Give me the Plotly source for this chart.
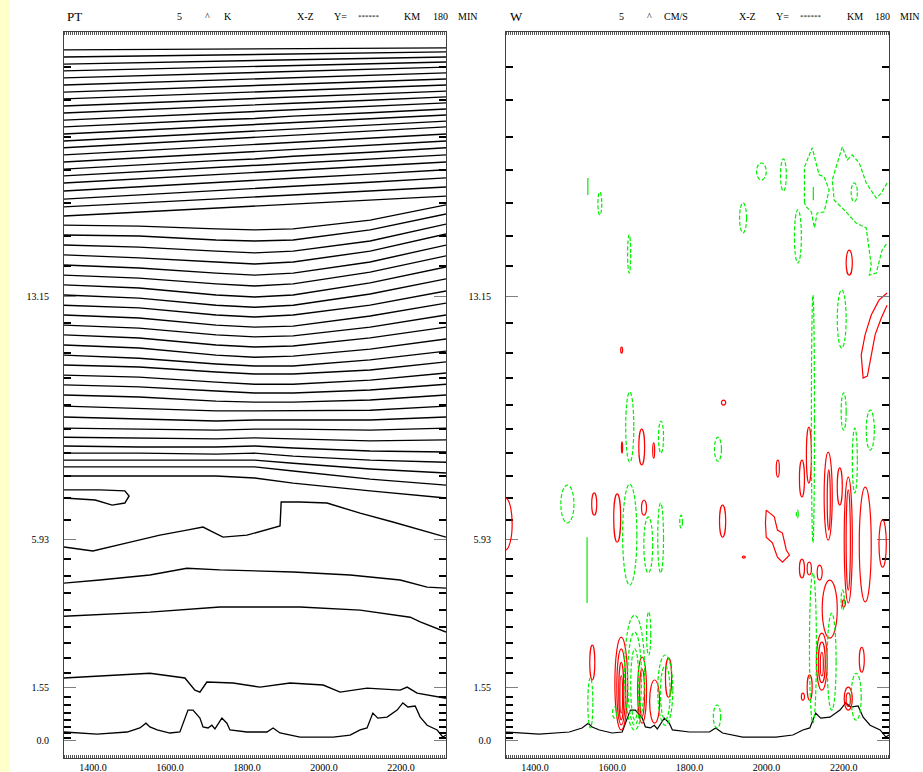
import plotly.graph_objects as go

# ---------------- axes / ticks ----------------
X_RANGE = [1325, 2317]
Z_RANGE = [-0.53, 20.97]
x_tick_vals = [1400, 1600, 1800, 2000, 2200]
x_tick_text = ["1400.0", "1600.0", "1800.0", "2000.0", "2200.0"]
z_tick_vals = [0.0, 1.55, 5.93, 13.15]
z_tick_text = ["0.0", "1.55", "5.93", "13.15"]
model_levels = [0.06, 0.21, 0.39, 0.59, 0.80, 1.04, 1.27, 1.98, 2.43, 2.87, 3.35,
                3.85, 4.35, 4.86, 5.36, 6.52, 7.17, 7.82, 8.50, 9.21, 9.92, 10.72,
                11.46, 12.35, 14.04, 14.93, 15.91, 16.88, 17.86, 18.96, 19.93]

# ---------------- terrain ----------------
terrain_x = [1325, 1411, 1489, 1504, 1522, 1538, 1548, 1567, 1600, 1626,
             1647, 1660, 1678, 1686, 1699, 1709, 1717, 1735, 1748, 1756,
             1800, 1852, 1868, 1886, 1938, 2024, 2068, 2094, 2112, 2127,
             2140, 2164, 2190, 2205, 2218, 2237, 2250, 2268, 2294, 2309, 2317]
terrain_z = [0.24, 0.18, 0.24, 0.30, 0.36, 0.50, 0.39, 0.30, 0.21, 0.24,
             0.89, 0.89, 0.65, 0.39, 0.36, 0.44, 0.33, 0.65, 0.50, 0.30,
             0.24, 0.24, 0.36, 0.21, 0.09, 0.09, 0.15, 0.30, 0.36, 0.80,
             0.65, 0.68, 0.89, 1.10, 0.98, 1.01, 0.68, 0.44, 0.30, 0.09, 0.15]

# ---------------- PT isentropes (heights in km at pt_x) ----------------
pt_x = [1325, 1520, 1720, 1820, 1920, 2120, 2317]
pt_upper = [
    [20.44, 20.45, 20.46, 20.47, 20.48, 20.49, 20.50],
    [20.23, 20.26, 20.29, 20.31, 20.32, 20.35, 20.38],
    [20.02, 20.06, 20.10, 20.13, 20.15, 20.19, 20.23],
    [19.82, 19.87, 19.92, 19.95, 19.98, 20.03, 20.08],
    [19.61, 19.67, 19.74, 19.77, 19.80, 19.87, 19.93],
    [19.40, 19.47, 19.54, 19.58, 19.62, 19.69, 19.76],
    [19.19, 19.27, 19.35, 19.39, 19.42, 19.50, 19.58],
    [18.99, 19.07, 19.15, 19.18, 19.24, 19.32, 19.40],
    [18.78, 18.87, 18.96, 19.00, 19.04, 19.13, 19.22],
    [18.57, 18.67, 18.76, 18.81, 18.86, 18.95, 19.05],
    [18.36, 18.46, 18.56, 18.62, 18.67, 18.77, 18.87],
    [18.16, 18.27, 18.37, 18.41, 18.48, 18.58, 18.69],
    [17.95, 18.06, 18.17, 18.23, 18.29, 18.40, 18.51],
    [17.74, 17.86, 17.98, 18.04, 18.09, 18.21, 18.33],
    [17.54, 17.66, 17.79, 17.85, 17.91, 18.04, 18.16],
    [17.33, 17.45, 17.58, 17.64, 17.70, 17.83, 17.95],
    [17.12, 17.24, 17.37, 17.43, 17.49, 17.62, 17.74],
    [16.91, 17.04, 17.16, 17.21, 17.29, 17.41, 17.54],
    [16.71, 16.83, 16.96, 17.02, 17.08, 17.21, 17.33],
    [16.50, 16.62, 16.75, 16.81, 16.87, 17.00, 17.12],
    [16.26, 16.39, 16.51, 16.58, 16.64, 16.76, 16.89],
    [16.02, 16.15, 16.27, 16.34, 16.40, 16.52, 16.65],
    [15.79, 15.91, 16.03, 16.09, 16.14, 16.26, 16.38],
    [15.52, 15.64, 15.76, 15.82, 15.87, 15.99, 16.11],
]
pt_middle = [
    [15.25, 15.22, 15.14, 15.11, 15.14, 15.40, 15.85],
    [14.96, 14.93, 14.81, 14.78, 14.81, 15.11, 15.58],
    [14.66, 14.60, 14.48, 14.43, 14.48, 14.78, 15.28],
    [14.37, 14.28, 14.16, 14.10, 14.16, 14.48, 14.99],
    [14.07, 13.98, 13.83, 13.77, 13.83, 14.16, 14.66],
    [13.77, 13.68, 13.51, 13.45, 13.51, 13.86, 14.34],
    [13.48, 13.39, 13.18, 13.12, 13.18, 13.54, 14.01],
    [13.18, 13.09, 12.88, 12.82, 12.88, 13.21, 13.66],
    [12.88, 12.80, 12.59, 12.53, 12.59, 12.88, 13.30],
    [12.59, 12.50, 12.29, 12.23, 12.26, 12.56, 12.94],
    [12.29, 12.20, 12.00, 11.94, 11.97, 12.23, 12.59],
    [12.00, 11.91, 11.70, 11.64, 11.67, 11.91, 12.23],
    [11.70, 11.61, 11.40, 11.34, 11.37, 11.58, 11.88],
    [11.40, 11.31, 11.14, 11.08, 11.08, 11.26, 11.52],
]
pt_lower = [
    [11.11, 11.05, 10.90, 10.84, 10.84, 10.96, 11.20],
    [10.81, 10.75, 10.60, 10.54, 10.54, 10.66, 10.87],
    [10.52, 10.46, 10.34, 10.28, 10.28, 10.37, 10.54],
    [10.22, 10.16, 10.04, 10.01, 10.01, 10.07, 10.22],
    [9.89, 9.83, 9.75, 9.75, 9.75, 9.77, 9.89],
    [9.57, 9.51, 9.45, 9.48, 9.48, 9.48, 9.57],
    [9.24, 9.21, 9.18, 9.21, 9.21, 9.18, 9.24],
    [8.97, 8.95, 8.92, 8.95, 8.92, 8.86, 8.89],
    [8.71, 8.68, 8.68, 8.71, 8.65, 8.56, 8.53],
    [8.50, 8.50, 8.47, 8.50, 8.41, 8.29, 8.23],
    [8.29, 8.29, 8.29, 8.29, 8.20, 8.03, 7.91],
    [8.09, 8.09, 8.09, 8.09, 7.97, 7.73, 7.55],
    [7.82, 7.82, 7.82, 7.76, 7.61, 7.38, 7.17],
]
pt_bump_x = [1325, 1418, 1483, 1494, 1483, 1450, 1406, 1325]
pt_bump_z = [7.41, 7.41, 7.38, 7.23, 7.02, 6.96, 7.11, 7.17]
pt_step_x = [1325, 1400, 1489, 1574, 1644, 1686, 1712, 1738, 1800, 1868, 1886,
             1889, 1938, 2008, 2094, 2179, 2317]
pt_step_z = [5.72, 5.60, 5.84, 6.07, 6.22, 6.31, 6.16, 6.01, 6.07, 6.28, 6.34,
             7.05, 7.05, 7.02, 6.72, 6.46, 6.01]
pt_mid_x = [1325, 1418, 1548, 1644, 1730, 1920, 2068, 2198, 2268, 2317]
pt_mid_z = [4.65, 4.74, 4.89, 5.09, 5.04, 4.98, 4.89, 4.74, 4.53, 4.50]
pt_low_x = [1325, 1548, 1730, 1938, 2094, 2224, 2250, 2317]
pt_low_z = [3.67, 3.79, 3.94, 3.94, 3.85, 3.64, 3.50, 3.20]
pt_pbl_x = [1325, 1418, 1548, 1639, 1665, 1678, 1696, 1764, 1834, 1912, 1998,
            2042, 2112, 2198, 2216, 2242, 2317]
pt_pbl_z = [1.84, 1.90, 1.98, 1.84, 1.48, 1.42, 1.72, 1.69, 1.57, 1.69, 1.63,
            1.42, 1.54, 1.48, 1.57, 1.39, 1.24]

# ---------------- W contours: (x0, x1, z0, z1) boxes of closed contours ----------------
w_up_cells = [
    (1622, 1627, 11.46, 11.64), (1883, 1894, 9.92, 10.07), (1669, 1684, 8.15, 9.21),
    (1624, 1627, 8.50, 8.83), (1705, 1710, 8.35, 8.80), (1305, 1341, 5.63, 7.17),
    (1547, 1560, 6.66, 7.32), (1604, 1622, 5.86, 7.29), (1676, 1689, 6.66, 7.11),
    (1878, 1894, 6.01, 6.96), (1937, 1945, 5.39, 5.45), (2025, 2033, 7.79, 8.29),
    (2085, 2098, 7.20, 8.29), (2103, 2116, 7.61, 9.27), (2085, 2098, 4.80, 5.36),
    (2105, 2116, 4.89, 5.27), (2131, 2144, 4.74, 5.18), (2149, 2170, 5.92, 8.53),
    (2157, 2165, 6.22, 8.00), (2183, 2196, 6.96, 8.06), (2201, 2222, 4.06, 7.79),
    (2206, 2217, 4.44, 7.41), (2240, 2271, 4.09, 7.49), (2291, 2310, 5.12, 6.52),
    (2144, 2183, 3.02, 4.74), (2206, 2222, 13.77, 14.51), (1542, 1555, 1.78, 2.81),
    (1607, 1640, 0.30, 3.05), (1612, 1635, 0.45, 2.70), (1617, 1630, 0.60, 2.30),
    (1620, 1627, 0.80, 1.90), (1666, 1689, 0.50, 2.46), (1671, 1684, 0.70, 2.10),
    (1697, 1723, 0.50, 1.78), (1738, 1754, 1.27, 2.43), (2129, 2157, 1.48, 3.17),
    (2134, 2152, 1.70, 2.90), (2139, 2147, 1.90, 2.60), (2090, 2098, 1.18, 1.39),
    (2105, 2118, 1.18, 1.93), (2196, 2204, 3.94, 4.15), (2240, 2253, 2.01, 2.75),
    (2201, 2222, 0.89, 1.57), (2206, 2217, 1.00, 1.40),
]
w_down_cells = [
    (1563, 1573, 15.55, 16.23), (1640, 1648, 13.83, 14.96), (1974, 1999, 16.59, 17.09),
    (2036, 2051, 16.26, 17.21), (1930, 1948, 15.02, 15.91), (2072, 2090, 14.13, 15.70),
    (2219, 2235, 15.94, 16.50), (2183, 2206, 11.61, 13.33), (2116, 2124, 5.84, 13.18),
    (2111, 2129, 0.50, 4.95), (1635, 1656, 8.23, 10.31), (1720, 1733, 8.50, 9.45),
    (1865, 1883, 8.26, 8.97), (1467, 1501, 6.43, 7.55), (1627, 1664, 4.59, 7.58),
    (1682, 1705, 4.95, 6.61), (1718, 1733, 4.95, 7.02), (1775, 1782, 6.28, 6.66),
    (2077, 2082, 6.58, 6.81), (2193, 2206, 9.18, 10.28), (2222, 2235, 7.32, 9.24),
    (2258, 2279, 8.59, 9.77), (2193, 2201, 3.85, 4.44), (1537, 1550, 0.36, 1.84),
    (1632, 1684, 0.30, 3.70), (1640, 1676, 0.45, 3.20), (1648, 1669, 0.60, 2.70),
    (1689, 1700, 2.52, 3.79), (1718, 1757, 0.44, 2.52), (1725, 1750, 0.60, 2.20),
    (1601, 1612, 0.65, 0.98), (1862, 1881, 0.36, 1.04), (2157, 2180, 0.89, 3.76),
    (2219, 2245, 0.59, 1.98),
]
w_zero_x = [1537, 2121, 1535]
w_zero_z0 = [16.14, 15.99, 4.06]
w_zero_z1 = [16.65, 16.38, 6.01]
w_up_loop_a_x = [1999, 2020, 2028, 2041, 2051, 2059, 2041, 2028, 2015, 1999, 1997, 1999]
w_up_loop_a_z = [6.81, 6.61, 6.22, 6.13, 5.63, 5.48, 5.27, 5.42, 5.84, 6.01, 6.43, 6.81]
w_up_loop_b_x = [2312, 2291, 2271, 2255, 2245, 2250, 2261, 2271, 2281, 2297, 2312]
w_up_loop_b_z = [13.24, 13.03, 12.59, 12.00, 11.40, 10.72, 10.78, 11.40, 12.00, 12.50, 12.88]
w_down_loop_a_x = [2098, 2098, 2118, 2126, 2136, 2149, 2162, 2157, 2149, 2131, 2124, 2116, 2103, 2098]
w_down_loop_a_z = [15.91, 16.97, 17.54, 17.18, 16.74, 16.68, 16.29, 16.05, 15.64, 15.61, 15.17, 15.64, 15.79, 15.91]
w_down_loop_b_x = [2312, 2297, 2284, 2258, 2240, 2222, 2209, 2196, 2170, 2175, 2206,
                   2232, 2258, 2266, 2271, 2266, 2284, 2299, 2312]
w_down_loop_b_z = [16.50, 16.20, 16.05, 16.50, 17.09, 17.33, 17.18, 17.57, 16.59, 15.99,
                   15.64, 15.31, 15.17, 14.51, 14.07, 13.77, 13.83, 14.51, 14.72]

RED = "#FF0000"
GREEN = "#00EE00"
DASH = "4px,2px"
FONT = "Liberation Serif, Times New Roman, serif"

fig = go.Figure()


def line(x, z, xa, ya, color, width=1.3, dash="solid"):
    fig.add_trace(go.Scatter(
        x=x, y=z, mode="lines", xaxis=xa, yaxis=ya,
        line=dict(color=color, width=width, dash=dash),
        hoverinfo="skip", showlegend=False))


# left panel: potential temperature
for group in (pt_upper, pt_middle, pt_lower):
    for zs in group:
        line(pt_x, zs, "x", "y", "black", 1.4)
line(pt_bump_x, pt_bump_z, "x", "y", "black", 1.4)
line(pt_step_x, pt_step_z, "x", "y", "black", 1.4)
line(pt_mid_x, pt_mid_z, "x", "y", "black", 1.4)
line(pt_low_x, pt_low_z, "x", "y", "black", 1.4)
line(pt_pbl_x, pt_pbl_z, "x", "y", "black", 1.4)
line(terrain_x, terrain_z, "x", "y", "black", 1.3)

# right panel: vertical velocity
shapes = []
for (x0, x1, z0, z1) in w_up_cells:
    shapes.append(dict(type="circle", xref="x2", yref="y2", x0=x0, x1=x1, y0=z0, y1=z1,
                       line=dict(color=RED, width=1.2)))
for (x0, x1, z0, z1) in w_down_cells:
    shapes.append(dict(type="circle", xref="x2", yref="y2", x0=x0, x1=x1, y0=z0, y1=z1,
                       line=dict(color=GREEN, width=1.2, dash=DASH)))
for xv, a, b in zip(w_zero_x, w_zero_z0, w_zero_z1):
    line([xv, xv], [a, b], "x2", "y2", GREEN, 1.2)
line(w_up_loop_a_x, w_up_loop_a_z, "x2", "y2", RED, 1.2)
line(w_up_loop_b_x, w_up_loop_b_z, "x2", "y2", RED, 1.2)
line(w_down_loop_a_x, w_down_loop_a_z, "x2", "y2", GREEN, 1.2, DASH)
line(w_down_loop_b_x, w_down_loop_b_z, "x2", "y2", GREEN, 1.2, DASH)
line(terrain_x, terrain_z, "x2", "y2", "black", 1.2)

W, H = 923, 772
ydom = [1 - 758 / H, 1 - 32 / H]

# page strip
shapes.append(dict(type="rect", xref="paper", yref="paper", x0=0, x1=10 / W, y0=0, y1=1,
                   fillcolor="#FFFFCC", line=dict(width=0), layer="below"))
# grid-point tick bands along the top and bottom frames (dotted look)
for xd in ("x domain", "x2 domain"):
    for yy in (1 - 33.5 / H, 1 - 756.5 / H):
        shapes.append(dict(type="line", xref=xd, yref="paper", x0=0, x1=1, y0=yy, y1=yy,
                           line=dict(color="#555555", width=3, dash="1px,1px")))


def xaxis(domain, anchor):
    return dict(domain=domain, anchor=anchor, range=X_RANGE, tickmode="array",
                tickvals=x_tick_vals, ticktext=x_tick_text, ticks="",
                showline=True, linecolor="#404040", linewidth=1,
                mirror=True, showgrid=False, zeroline=False, automargin=False,
                tickfont=dict(family=FONT, size=10, color="black"), ticklabelstandoff=0)


def yaxis(anchor):
    return dict(domain=ydom, anchor=anchor, range=Z_RANGE, tickmode="array",
                tickvals=z_tick_vals, ticktext=z_tick_text, ticks="inside", ticklen=12,
                tickcolor="#808080", tickwidth=1, showline=True, linecolor="#404040",
                linewidth=1, mirror="allticks", showgrid=False, zeroline=False,
                automargin=False, ticklabelstandoff=12,
                tickfont=dict(family=FONT, size=10, color="black"),
                minor=dict(tickmode="array", tickvals=model_levels, ticks="inside",
                           ticklen=7, tickcolor="black", tickwidth=2, showgrid=False))


# header texts (x pixel position, text, size)
header_left = [(65, "PT", 13), (175, "5", 10), (203, "^", 10), (222, "K", 10),
               (295, "X-Z", 10), (332, "Y=", 10), (356, "******", 7), (402, "KM", 10),
               (431, "180", 10), (456, "MIN", 10)]
header_right = [(508, "W", 13), (617, "5", 10), (645, "^", 10), (662, "CM/S", 10),
                (737, "X-Z", 10), (774, "Y=", 10), (798, "******", 7), (845, "KM", 10),
                (873, "180", 10), (898, "MIN", 10)]
annotations = []
for px, txt, sz in header_left + header_right:
    annotations.append(dict(x=px / W, y=1 - 17 / H, xref="paper", yref="paper",
                            xanchor="left", yanchor="middle", text=txt, showarrow=False,
                            font=dict(family=FONT, size=sz, color="black")))

fig.update_layout(
    width=W, height=H, template="none",
    paper_bgcolor="white", plot_bgcolor="white",
    margin=dict(l=0, r=0, t=0, b=0, pad=0, autoexpand=False),
    showlegend=False,
    xaxis=xaxis([64 / W, 446 / W], "y"),
    yaxis=yaxis("x"),
    xaxis2=xaxis([506 / W, 889 / W], "y2"),
    yaxis2=yaxis("x2"),
    shapes=shapes,
    annotations=annotations,
)

fig.write_html("out.html", config={"displayModeBar": False},
               post_script="document.body.style.margin='0px';")
